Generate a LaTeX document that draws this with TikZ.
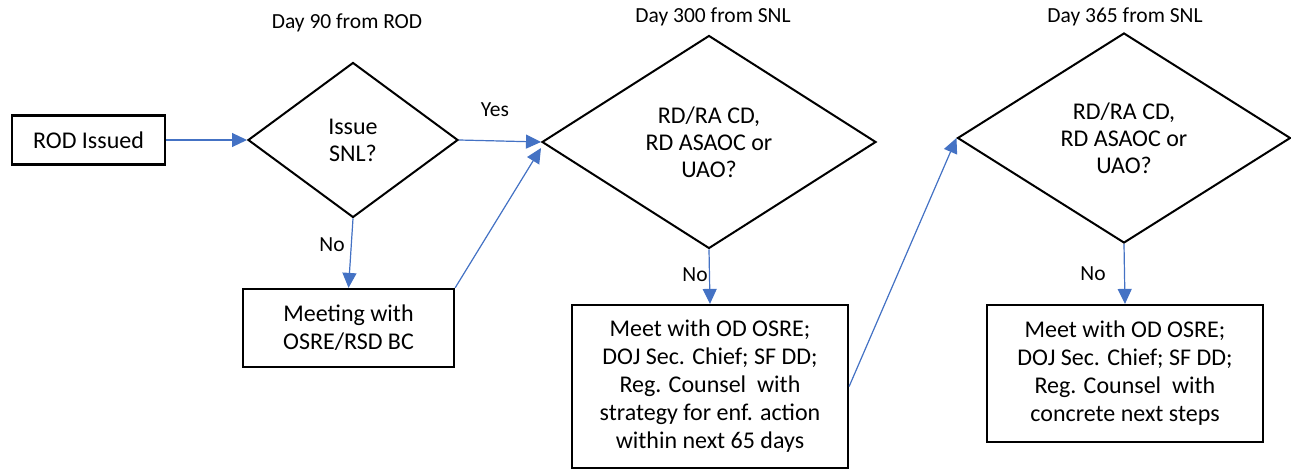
\documentclass[tikz,border=0pt]{standalone}
\usepackage{fontspec}
\setmainfont{Carlito}
\usetikzlibrary{arrows.meta}
\usetikzlibrary{shapes.geometric}
\definecolor{flowblue}{RGB}{68,114,196}

\begin{document}
\begin{tikzpicture}[x=1pt, y=-1pt]
			\tikzset{box/.style={shape = rectangle, draw, line width = 2.2pt, align = center, inner sep = 0pt, font = \fontsize{24}{28}\selectfont}}
			\tikzset{decision/.style={shape = diamond, draw, line width = 2pt, align = center, inner sep = 0pt, font = \fontsize{24}{27}\selectfont}}
			\tikzset{edge/.style={-{Triangle[length = 15pt, width = 14pt]}, draw = flowblue, fill = flowblue, line width = 1.2pt}}
			\tikzset{tag/.style={font = \fontsize{21.5}{24}\selectfont}}
			\useasboundingbox (0, 0) rectangle (1291, 470);
			%steps
			\node[box, minimum width = 153pt, minimum height = 49pt] (rod) at (88.5, 140) {ROD Issued};
			\node[decision, minimum width = 210pt, minimum height = 155pt] (snl) at (353, 140) {Issue\\SNL?};
			\node[decision, minimum width = 334pt, minimum height = 213pt] (cd300) at (709, 142) {RD/RA CD,\\RD ASAOC or\\UAO?};
			\node[decision, minimum width = 333pt, minimum height = 210pt] (cd365) at (1124, 138) {RD/RA CD,\\RD ASAOC or\\UAO?};
			\node[box, minimum width = 211pt, minimum height = 78pt] (bc) at (348.5, 328) {Meeting with\\OSRE/RSD BC};
			\node[box, minimum width = 276pt, minimum height = 163pt] (osre65) at (710, 386.5) {Meet with OD OSRE;\\DOJ Sec. Chief; SF DD;\\Reg. Counsel\ \ with\\strategy for enf. action\\within next 65 days};
			\node[box, minimum width = 276pt, minimum height = 137pt] (osrenext) at (1125, 373.5) {Meet with OD OSRE;\\DOJ Sec. Chief; SF DD;\\Reg. Counsel\ \ with\\concrete next steps};
			%labels
			\node[tag] (day90) at (347, 23) {Day 90 from ROD};
			\node[tag] (day300) at (713, 17) {Day 300 from SNL};
			\node[tag] (day365) at (1125, 17) {Day 365 from SNL};
			\node[tag] (yes) at (495, 110) {Yes};
			\node[tag] (no1) at (332, 245) {No};
			\node[tag] (no2) at (695, 275) {No};
			\node[tag] (no3) at (1093, 274) {No};
			%edges
			\draw[edge] (rod.east) -- (snl.west);
			\draw[edge] (snl.east) -- (cd300.west);
			\draw[edge] (snl.south) -- (bc.north);
			\draw[edge] (bc.north east) -- ([yshift = -6pt]cd300.west);
			\draw[edge] (cd300.south) -- (osre65.north);
			\draw[edge] (osre65.east) -- (cd365.west);
			\draw[edge] (cd365.south) -- (osrenext.north);
		\end{tikzpicture}
\end{document}
